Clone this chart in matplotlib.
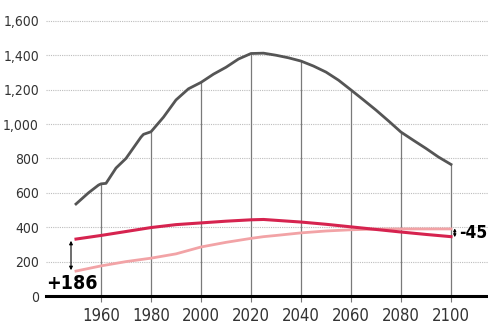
import matplotlib.pyplot as plt
import numpy as np

# Population series (millions)
years_total = [1950, 1955, 1959, 1960, 1962, 1966, 1970, 1976, 1977, 1980, 1985, 1990, 1995,
               2000, 2005, 2010, 2015, 2020, 2025, 2030, 2035, 2040, 2045, 2050, 2055,
               2060, 2065, 2070, 2075, 2080, 2085, 2090, 2095, 2100]
total = [535, 600, 645, 652, 655, 744, 800, 924, 940, 955, 1040, 1140, 1205,
         1242, 1290, 1330, 1378, 1410, 1412, 1400, 1385, 1366, 1337, 1302, 1255,
         1198, 1140, 1081, 1018, 953, 905, 858, 808, 765]

years_sub = [1950, 1960, 1970, 1980, 1990, 2000, 2010, 2020, 2025, 2030, 2040, 2050,
             2060, 2070, 2080, 2090, 2100]
group_a = [331, 352, 375, 398, 415, 425, 435, 443, 445, 440, 430, 417,
           402, 387, 372, 358, 345]
group_b = [145, 175, 200, 220, 245, 285, 312, 335, 345, 352, 367, 378,
           385, 389, 390, 390, 390]

xticks = list(range(1960, 2101, 20))
yticks = list(range(0, 1601, 200))

FONT = dict(family='DejaVu Sans', fontstretch='condensed')

fig = plt.figure(figsize=(4.89, 3.27), dpi=100, facecolor='white')
ax = fig.add_axes([46 / 489, 1 - 296 / 327, 1 - 46 / 489, (296 - 10) / 327])
ax.set_xlim(1938.0, 2115.2)
ax.set_ylim(0, 1663)

# dotted horizontal guides
for y in yticks[1:]:
    ax.axhline(y, color='#bdbdbd', lw=0.8, ls=(0, (1, 1)), zorder=0)

# vertical drop lines up to the total curve
tot_at = np.interp(xticks, years_total, total)
ax.vlines(xticks, 0, tot_at, color='#7a7a7a', lw=0.9, zorder=1)

ax.plot(years_sub, group_b, color='#f2a3a6', lw=2.0, zorder=3)
ax.plot(years_sub, group_a, color='#d6234f', lw=2.2, zorder=4)
ax.plot(years_total, total, color='#555555', lw=2.0, zorder=5)

# difference markers
ax.annotate('', xy=(1948, group_a[0] - 10), xytext=(1948, group_b[0] + 5),
            arrowprops=dict(arrowstyle='<|-|>', color='black', lw=0.8,
                            mutation_scale=5, shrinkA=0, shrinkB=0))
d0 = group_a[0] - group_b[0]
ax.text(1948.5, 72, f'+{d0}', fontsize=14, fontweight='bold', ha='center', va='center', **FONT)
ax.annotate('', xy=(2101.5, group_b[-1] + 3), xytext=(2101.5, group_a[-1] - 3),
            arrowprops=dict(arrowstyle='<|-|>', color='black', lw=0.8,
                            mutation_scale=4, shrinkA=0, shrinkB=0))
d1 = group_a[-1] - group_b[-1]
ax.text(2103.3, (group_a[-1] + group_b[-1]) / 2, f'{d1}', fontsize=12.5, fontweight='bold',
        ha='left', va='center', **FONT)

ax.set_xticks(xticks)
ax.set_xticklabels([str(x) for x in xticks], fontsize=12, color='#333333', **FONT)
ax.set_yticks(yticks)
ax.set_yticklabels([f'{y:,}' for y in yticks], fontsize=10, color='#333333', **FONT)
ax.tick_params(axis='x', length=4, color='#7a7a7a', pad=4)
ax.tick_params(axis='y', length=0, pad=5)

ax.spines[['top', 'right', 'left']].set_visible(False)
ax.spines['bottom'].set_color('black')
ax.spines['bottom'].set_linewidth(2.2)
ax.spines['bottom'].set_zorder(6)

fig.savefig('out.png', dpi=100, facecolor='white')
